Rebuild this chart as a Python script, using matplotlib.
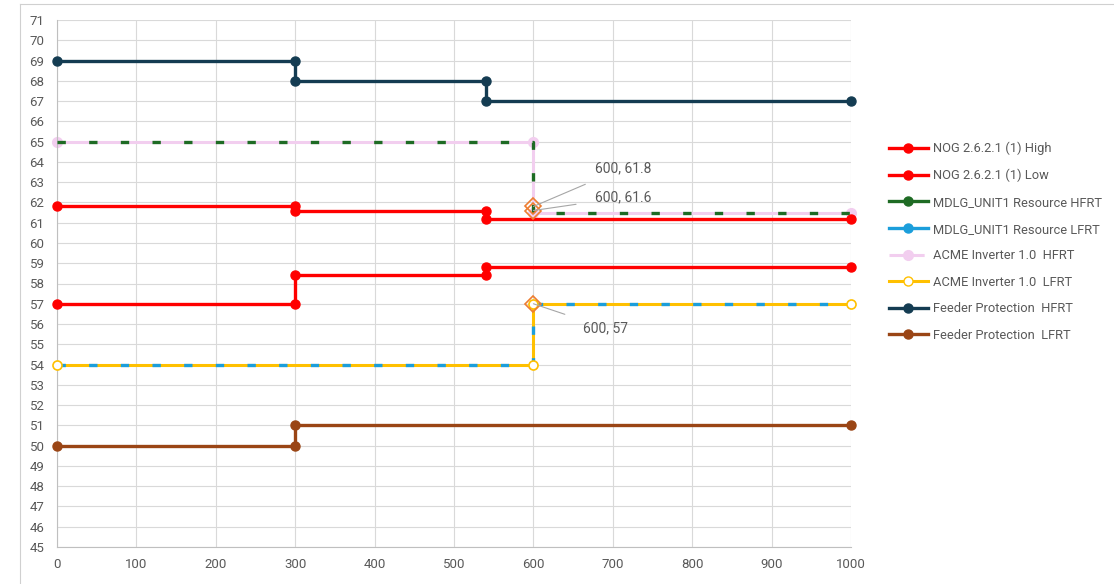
import matplotlib.pyplot as plt
from matplotlib.lines import Line2D

# Step series (x, y)
nog_hi_x = [0, 300, 300, 540, 540, 1000]
nog_hi_y = [61.8, 61.8, 61.6, 61.6, 61.2, 61.2]
nog_lo_x = [0, 300, 300, 540, 540, 1000]
nog_lo_y = [57, 57, 58.4, 58.4, 58.8, 58.8]
mdlg_hf_x = [0, 600, 600, 1000]
mdlg_hf_y = [65, 65, 61.5, 61.5]
mdlg_lf_x = [0, 600, 600, 1000]
mdlg_lf_y = [54, 54, 57, 57]
acme_hf_x = [0, 600, 600, 1000]
acme_hf_y = [65, 65, 61.5, 61.5]
acme_lf_x = [0, 600, 600, 1000]
acme_lf_y = [54, 54, 57, 57]
feed_hf_x = [0, 300, 300, 540, 540, 1000]
feed_hf_y = [69, 69, 68, 68, 67, 67]
feed_lf_x = [0, 300, 300, 1000]
feed_lf_y = [50, 50, 51, 51]

labels = ['NOG 2.6.2.1 (1) High', 'NOG 2.6.2.1 (1) Low',
          'MDLG_UNIT1 Resource HFRT', 'MDLG_UNIT1 Resource LFRT',
          'ACME Inverter 1.0  HFRT', 'ACME Inverter 1.0  LFRT',
          'Feeder Protection  HFRT', 'Feeder Protection  LFRT']

# labelled points
lab_x = [600, 600, 600]
lab_y = [61.8, 61.6, 57]
lab_txt_x = [678, 678, 663]
lab_txt_y = [63.7, 62.25, 55.8]

RED = '#FF0000'
GREEN = '#1E6B24'
BLUE = '#1B9EDB'
PINK = '#F2CEEF'
YELLOW = '#FFC000'
NAVY = '#143C52'
BROWN = '#9A4515'
GRAY = '#595959'

plt.rcParams['font.family'] = ['Roboto', 'DejaVu Sans']

fig = plt.figure(figsize=(11.14, 5.84), dpi=100)
ax = fig.add_axes([57/1114, 37/584, 794/1114, 527/584])

kw = dict(clip_on=False)
ax.plot(nog_hi_x, nog_hi_y, '-o', color=RED, lw=2.4, ms=6.5, zorder=4, **kw)
ax.plot(nog_lo_x, nog_lo_y, '-o', color=RED, lw=2.4, ms=6.5, zorder=4, **kw)

ax.plot(acme_hf_x, acme_hf_y, '-o', color=PINK, lw=2.2, ms=7, zorder=2, **kw)
ax.plot(mdlg_hf_x, mdlg_hf_y, color=GREEN, lw=2.4, dashes=(2.5, 7), zorder=3)

ax.plot(acme_lf_x, acme_lf_y, '-', color=YELLOW, lw=2.2, zorder=2)
ax.plot(mdlg_lf_x, mdlg_lf_y, color=BLUE, lw=2.4, dashes=(2.5, 7), zorder=3)
ax.plot(acme_lf_x, acme_lf_y, 'o', color=YELLOW, mfc='white', mew=1.2, ms=6.5,
        zorder=3.5, **kw)

ax.plot(feed_hf_x, feed_hf_y, '-o', color=NAVY, lw=2.4, ms=6.5, zorder=4, **kw)
ax.plot(feed_lf_x, feed_lf_y, '-o', color=BROWN, lw=2.4, ms=6.5, zorder=4, **kw)

# highlighted points with data labels
ax.plot(lab_x, lab_y, 'D', mfc='none', mec='#ED7D31', mew=1.2, ms=8, zorder=5)
for px, py, tx, ty in zip(lab_x, lab_y, lab_txt_x, lab_txt_y):
    ax.annotate(f'{px}, {py:g}', xy=(px, py), xytext=(tx, ty),
                textcoords='data', fontsize=10, color=GRAY, va='center', ha='left',
                arrowprops=dict(arrowstyle='-', color='#A6A6A6', lw=0.8,
                                shrinkA=12, shrinkB=0), zorder=6)

ax.set_xlim(0, 1000)
ax.set_ylim(45, 71)
ax.set_xticks(range(0, 1001, 100))
ax.set_yticks(range(45, 72))
ax.grid(True, color='#D9D9D9', lw=0.8)
ax.set_axisbelow(True)
for s in ['top', 'right']:
    ax.spines[s].set_visible(False)
for s in ['left', 'bottom']:
    ax.spines[s].set_color('#BFBFBF')
    ax.spines[s].set_linewidth(0.8)
ax.tick_params(length=0, labelsize=9.5, labelcolor=GRAY)
ax.tick_params(axis='y', pad=9)
ax.tick_params(axis='x', pad=8)

handles = [
    Line2D([], [], color=RED, lw=2.4, marker='o', ms=6.5),
    Line2D([], [], color=RED, lw=2.4, marker='o', ms=6.5),
    Line2D([], [], color=GREEN, lw=2.4, marker='o', ms=6.5),
    Line2D([], [], color=BLUE, lw=2.4, marker='o', ms=6.5),
    Line2D([], [], color=PINK, lw=2.2, marker='o', ms=7, dashes=(5, 1.5)),
    Line2D([], [], color=YELLOW, lw=2.2, marker='o', mfc='white', ms=6.5),
    Line2D([], [], color=NAVY, lw=2.4, marker='o', ms=6.5),
    Line2D([], [], color=BROWN, lw=2.4, marker='o', ms=6.5),
]
fig.legend(handles, labels, loc='upper left', bbox_to_anchor=(889/1114, 1 - 142/584),
           frameon=False, fontsize=9.3, labelcolor=GRAY, handlelength=3.0,
           handletextpad=0.4, labelspacing=1.05, borderpad=0, borderaxespad=0)

# outer chart frame
fig.add_artist(Line2D([20/1114, 1], [1 - 4/584, 1 - 4/584], color='#D0D0D0', lw=0.8))
fig.add_artist(Line2D([20/1114, 20/1114], [0, 1 - 4/584], color='#D0D0D0', lw=0.8))

fig.savefig('out.png', dpi=100)
